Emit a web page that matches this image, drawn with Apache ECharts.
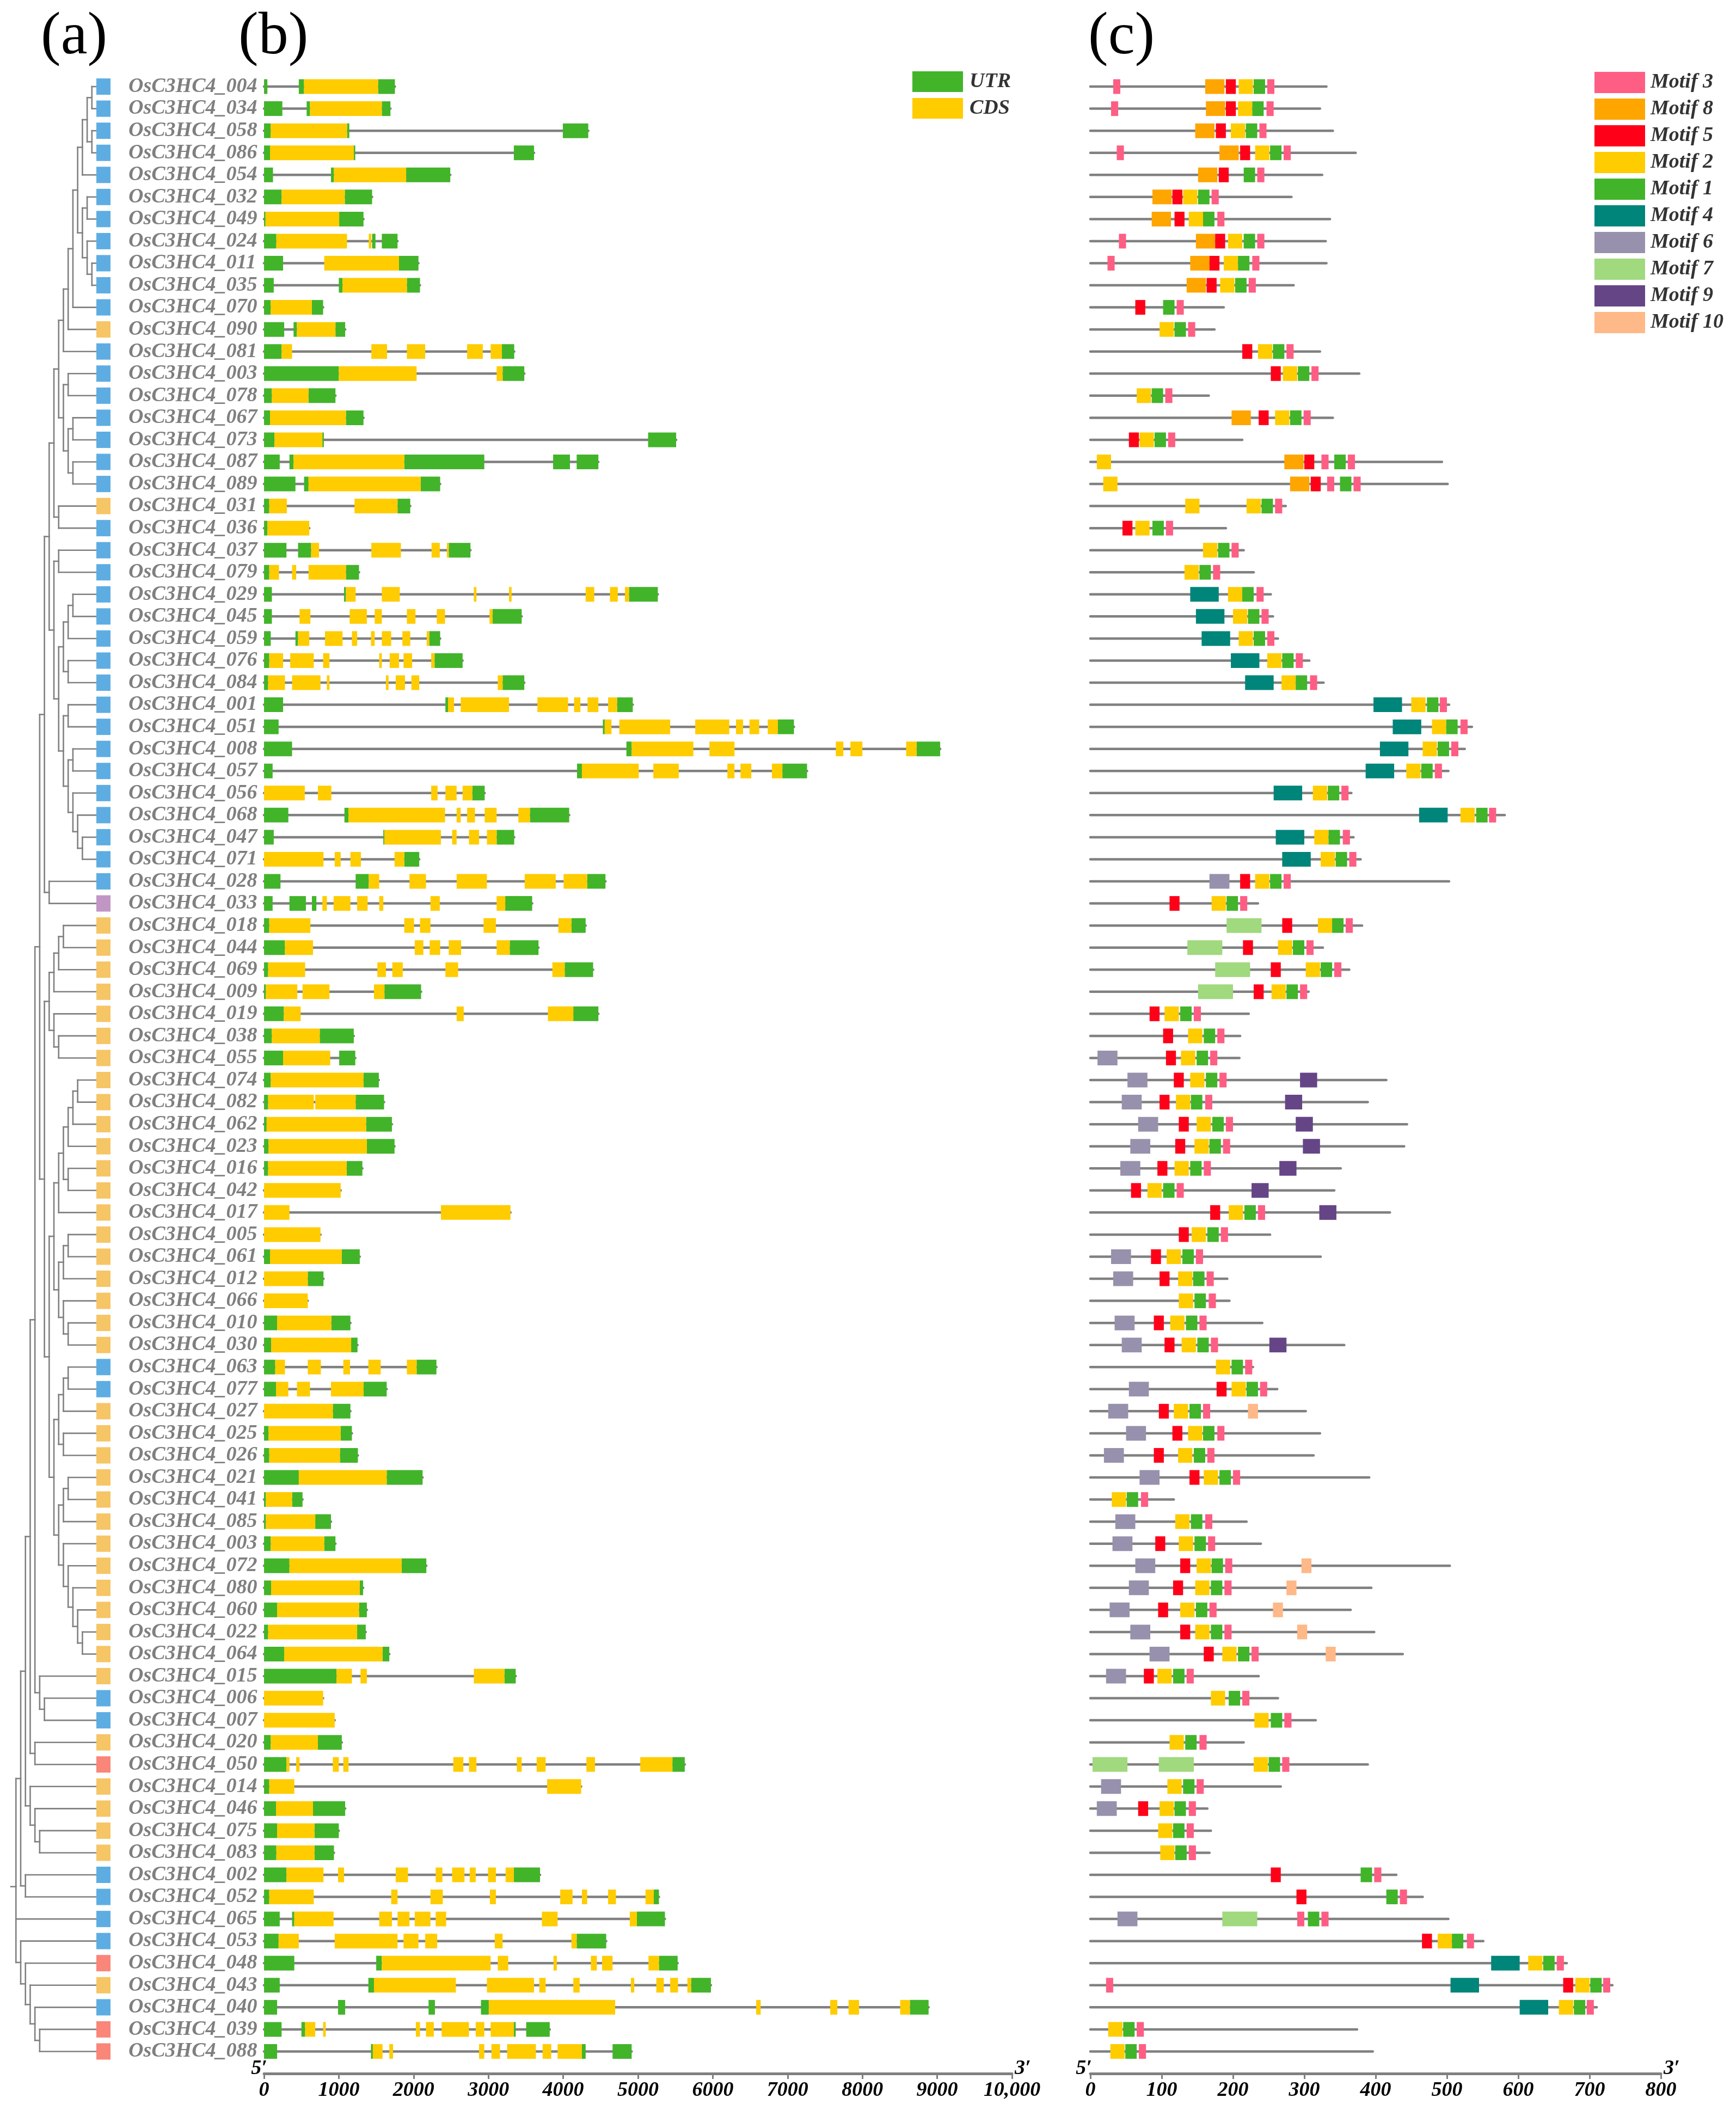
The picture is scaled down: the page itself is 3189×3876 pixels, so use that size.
<!DOCTYPE html>
<html>
<head>
<meta charset="utf-8">
<title>OsC3HC4 phylogeny, gene structure and motifs</title>
<script src="https://cdn.jsdelivr.net/npm/echarts@6/dist/echarts.min.js"></script>
<style>
  html, body { margin: 0; padding: 0; background: #fff; }
  #main { width: 3189px; height: 3876px; }
</style>
</head>
<body>
<div id="main"></div>
<script>
'use strict';

// ---- data (rows from top to bottom) ----
const genes = [
    'OsC3HC4_004', 'OsC3HC4_034', 'OsC3HC4_058', 'OsC3HC4_086', 'OsC3HC4_054', 'OsC3HC4_032', 'OsC3HC4_049', 'OsC3HC4_024', 'OsC3HC4_011', 'OsC3HC4_035',
    'OsC3HC4_070', 'OsC3HC4_090', 'OsC3HC4_081', 'OsC3HC4_003', 'OsC3HC4_078', 'OsC3HC4_067', 'OsC3HC4_073', 'OsC3HC4_087', 'OsC3HC4_089', 'OsC3HC4_031',
    'OsC3HC4_036', 'OsC3HC4_037', 'OsC3HC4_079', 'OsC3HC4_029', 'OsC3HC4_045', 'OsC3HC4_059', 'OsC3HC4_076', 'OsC3HC4_084', 'OsC3HC4_001', 'OsC3HC4_051',
    'OsC3HC4_008', 'OsC3HC4_057', 'OsC3HC4_056', 'OsC3HC4_068', 'OsC3HC4_047', 'OsC3HC4_071', 'OsC3HC4_028', 'OsC3HC4_033', 'OsC3HC4_018', 'OsC3HC4_044',
    'OsC3HC4_069', 'OsC3HC4_009', 'OsC3HC4_019', 'OsC3HC4_038', 'OsC3HC4_055', 'OsC3HC4_074', 'OsC3HC4_082', 'OsC3HC4_062', 'OsC3HC4_023', 'OsC3HC4_016',
    'OsC3HC4_042', 'OsC3HC4_017', 'OsC3HC4_005', 'OsC3HC4_061', 'OsC3HC4_012', 'OsC3HC4_066', 'OsC3HC4_010', 'OsC3HC4_030', 'OsC3HC4_063', 'OsC3HC4_077',
    'OsC3HC4_027', 'OsC3HC4_025', 'OsC3HC4_026', 'OsC3HC4_021', 'OsC3HC4_041', 'OsC3HC4_085', 'OsC3HC4_003', 'OsC3HC4_072', 'OsC3HC4_080', 'OsC3HC4_060',
    'OsC3HC4_022', 'OsC3HC4_064', 'OsC3HC4_015', 'OsC3HC4_006', 'OsC3HC4_007', 'OsC3HC4_020', 'OsC3HC4_050', 'OsC3HC4_014', 'OsC3HC4_046', 'OsC3HC4_075',
    'OsC3HC4_083', 'OsC3HC4_002', 'OsC3HC4_052', 'OsC3HC4_065', 'OsC3HC4_053', 'OsC3HC4_048', 'OsC3HC4_043', 'OsC3HC4_040', 'OsC3HC4_039', 'OsC3HC4_088'
];

// clade of each gene: b blue, o orange, p purple, s salmon
const clades = ('bbbbbbbbbbb' + 'o' + 'bbbbbbb' + 'o' + 'bbbbbbbbbbbbbbbbb' + 'p' +
    'oooooooooooooooooooo' + 'bb' + 'ooooooooooooo' + 'bb' + 'o' + 's' + 'oooo' +
    'bbbb' + 's' + 'o' + 'b' + 'ss').split('');

// topology of the tree, leaves are row numbers (1 = top row)
const tree = [
    [[[[[[[[[[[[[[[[1, 2], [3, 4]], 5], [[6, 7], [8, [9, 10]]]], 11], 12], 13],
        [[14, 15], [[16, 17], [18, 19]]]], [20, 21]],
        [[22, 23], [[[[24, 25], 26], [27, 28]], [[29, 30], [[31, 32], [33, [34, [35, 36]]]]]]]],
        [37, 38]],
        [[[[[39, 40], 41], 42], [43, [44, 45]]],
            [[[[[[[46, 47], 48], 49], [50, 51]], 52], [[[53, 54], 55], [56, [57, 58]]]],
                [[[[59, 60], 61], [62, 63]], [[[64, 65], 66], [67, [68, [69, [70, [71, 72]]]]]]]]]],
        [73, [74, 75]]], [76, 77]], [78, [79, [80, 81]]]], [82, 83]],
    84,
    [85, [86, [87, [88, [89, 90]]]]]
];

// exon parts in bp, pairs of start/end
const utrParts = [
    [0, 45, 465, 535, 1525, 1750], [0, 245, 570, 615, 1575, 1690], [0, 90, 1110, 1140, 3995, 4335], [0, 80, 1200, 1220, 3340, 3610],
    [0, 120, 895, 935, 1900, 2490], [0, 235, 1080, 1445], [0, 20, 1005, 1330], [0, 165, 1445, 1490, 1575, 1785],
    [0, 255, 1805, 2065], [0, 130, 1000, 1050, 1910, 2085], [0, 90, 640, 790], [0, 270, 395, 440, 955, 1085],
    [0, 235, 3180, 3345], [0, 1000, 3190, 3480], [0, 105, 595, 955], [0, 80, 1095, 1330],
    [0, 140, 780, 800, 5135, 5510], [0, 210, 340, 395, 1875, 2945, 3865, 4090, 4180, 4470], [0, 420, 535, 595, 2095, 2355], [0, 70, 1785, 1955],
    [0, 45], [0, 300, 455, 630, 2470, 2760], [0, 70, 1095, 1270], [0, 105, 1070, 1095, 4880, 5265],
    [0, 105, 3055, 3445], [0, 90, 420, 455, 2210, 2355], [0, 70, 2280, 2655], [0, 55, 3190, 3480],
    [0, 255, 2425, 2460, 4720, 4930], [0, 195, 4530, 4555, 6870, 7085], [0, 375, 4845, 4915, 8725, 9040], [0, 115, 4185, 4250, 6930, 7260],
    [2785, 2950], [0, 325, 1075, 1130, 3555, 4080], [0, 130, 1595, 1610, 3110, 3345], [1875, 2075],
    [0, 220, 1225, 1400, 4320, 4565], [0, 115, 340, 560, 640, 700, 3225, 3585], [0, 70, 4110, 4300], [0, 280, 3285, 3670],
    [0, 55, 4020, 4400], [0, 25, 1610, 2100], [0, 265, 4135, 4470], [0, 105, 745, 1200],
    [0, 255, 1005, 1220], [0, 90, 1330, 1535], [0, 55, 1225, 1605], [0, 35, 1365, 1710],
    [0, 60, 1375, 1745], [0, 55, 1105, 1315], [], [],
    [], [0, 80, 1040, 1280], [585, 795], [],
    [0, 175, 900, 1155], [0, 95, 1165, 1250], [0, 150, 2040, 2305], [0, 160, 1330, 1640],
    [920, 1155], [0, 60, 1025, 1175], [0, 70, 1015, 1255], [0, 465, 1640, 2120],
    [0, 25, 375, 515], [0, 25, 685, 895], [0, 90, 805, 955], [0, 340, 1840, 2170],
    [0, 95, 1280, 1325], [0, 175, 1270, 1375], [0, 55, 1245, 1360], [0, 270, 1585, 1675],
    [0, 970, 3215, 3365], [], [], [0, 90, 720, 1040],
    [0, 300, 5460, 5625], [0, 70], [0, 160, 655, 1085], [0, 175, 675, 1000],
    [0, 165, 675, 935], [0, 300, 3340, 3690], [0, 70, 5210, 5280], [0, 210, 375, 405, 4985, 5360],
    [0, 195, 4180, 4575], [0, 405, 1500, 1575, 5280, 5530], [0, 210, 1395, 1470, 5710, 5975],
    [0, 175, 990, 1085, 2200, 2285, 2900, 3005, 8635, 8885],
    [0, 235, 500, 550, 3340, 3365, 3505, 3820], [0, 175, 1430, 1455, 4250, 4300, 4660, 4915]
];

const cdsParts = [
    [535, 1525], [615, 1575], [90, 1110], [80, 1200], [935, 1900], [235, 1080], [20, 1005], [165, 1110, 1400, 1435],
    [805, 1805], [1050, 1910], [90, 640], [440, 955],
    [235, 375, 1435, 1645, 1910, 2155, 2715, 2925, 3030, 3180], [1000, 2040, 3110, 3190], [105, 595], [80, 1095],
    [140, 780], [395, 1875], [595, 2095], [70, 305, 1210, 1785], [45, 605],
    [630, 735, 1435, 1830, 2240, 2350, 2445, 2470], [70, 200, 375, 430, 595, 1095],
    [1095, 1225, 1575, 1815, 2805, 2840, 3275, 3310, 4300, 4415, 4625, 4730, 4825, 4880],
    [475, 620, 1145, 1375, 1480, 1575, 1910, 2025, 2310, 2420, 3015, 3055],
    [455, 605, 815, 1050, 1175, 1245, 1430, 1480, 1575, 1700, 1850, 1955, 2175, 2210],
    [70, 255, 350, 665, 790, 875, 1540, 1575, 1680, 1805, 1865, 1980, 2235, 2280],
    [55, 280, 375, 755, 840, 875, 1630, 1665, 1760, 1885, 1970, 2075, 3125, 3190],
    [2460, 2540, 2630, 3275, 3655, 4065, 4145, 4230, 4325, 4470, 4600, 4720],
    [4555, 4645, 4750, 5430, 5765, 6220, 6310, 6405, 6490, 6620, 6735, 6870],
    [4915, 5740, 5955, 6290, 7645, 7745, 7840, 8000, 8585, 8725],
    [4250, 5010, 5205, 5545, 6195, 6290, 6370, 6515, 6790, 6930],
    [0, 545, 720, 900, 2235, 2320, 2425, 2575, 2655, 2785],
    [1130, 2420, 2575, 2630, 2715, 2820, 2950, 3110, 3400, 3555],
    [1610, 2365, 2515, 2575, 2740, 2875, 2980, 3110],
    [0, 795, 945, 1025, 1155, 1295, 1745, 1875],
    [1400, 1540, 1945, 2165, 2575, 2980, 3485, 3900, 4005, 4320],
    [780, 840, 930, 1155, 1245, 1385, 1540, 1595, 2225, 2350, 3110, 3225],
    [70, 620, 1875, 2005, 2085, 2225, 2935, 3100, 3935, 4110],
    [280, 655, 2015, 2130, 2215, 2355, 2470, 2635, 3110, 3285],
    [55, 550, 1515, 1630, 1715, 1855, 2425, 2595, 3855, 4020],
    [25, 445, 515, 875, 1470, 1610], [265, 490, 2575, 2670, 3795, 4135], [105, 745], [255, 885],
    [90, 1330], [55, 665, 685, 1225], [35, 1365], [60, 1375], [55, 1105], [0, 1025], [0, 340, 2365, 3295],
    [0, 755], [80, 1040], [0, 585], [0, 585], [175, 900], [95, 1165],
    [150, 280, 585, 760, 1060, 1150, 1395, 1560, 1910, 2040], [160, 325, 440, 615, 895, 1330],
    [0, 920], [60, 1025], [70, 1015], [465, 1640], [25, 375], [25, 685], [90, 805], [340, 1840],
    [95, 1280], [175, 1270], [55, 1245], [270, 1585], [970, 1175, 1290, 1375, 2805, 3215],
    [0, 790], [0, 945], [90, 720],
    [300, 340, 430, 475, 920, 1000, 1060, 1130, 2530, 2665, 2740, 2840, 3380, 3445, 3645, 3765, 4310, 4425, 5030, 5460],
    [70, 405, 3785, 4240], [160, 655], [175, 675], [165, 675],
    [300, 795, 990, 1070, 1760, 1925, 2295, 2385, 2515, 2680, 2750, 2830, 2995, 3100, 3230, 3340],
    [70, 665, 1700, 1785, 2225, 2390, 3020, 3100, 3960, 4125, 4250, 4320, 4600, 4705, 5100, 5210],
    [405, 930, 1540, 1710, 1785, 1945, 2015, 2225, 2295, 2435, 3715, 3925, 4890, 4985],
    [195, 465, 945, 1785, 1865, 2065, 2155, 2315, 3085, 3190, 4110, 4180],
    [1575, 3030, 3125, 3265, 3870, 3915, 4370, 4450, 4520, 4660, 5140, 5280],
    [1470, 2565, 2980, 3610, 3680, 3765, 4135, 4220, 4905, 4950, 5245, 5345, 5430, 5535, 5660, 5710],
    [3005, 4695, 6580, 6640, 7570, 7665, 7815, 7955, 8505, 8635],
    [550, 685, 790, 825, 2030, 2085, 2165, 2270, 2375, 2740, 2830, 2945, 3030, 3340],
    [1455, 1585, 1675, 1725, 2875, 2945, 3040, 3155, 3250, 3635, 3725, 3840, 3925, 4250]
];

// protein length in aa
const protLen = [
    331, 322, 340, 372, 325, 282, 336, 330, 331, 285, 187, 174, 322, 377, 166, 340, 213, 493, 501, 274,
    190, 215, 229, 253, 256, 263, 307, 327, 503, 535, 525, 502, 366, 581, 369, 379, 503, 235, 381, 326,
    363, 306, 222, 210, 209, 415, 389, 444, 440, 351, 342, 420, 252, 323, 192, 195, 241, 356, 228, 262,
    302, 322, 313, 391, 117, 219, 239, 504, 394, 365, 398, 438, 236, 263, 316, 215, 389, 267, 164, 169,
    167, 429, 466, 502, 551, 668, 732, 710, 374, 396
];

// motifs per protein: pairs of motif number / start aa
const motifs = [
    [3, 32, 8, 161, 5, 190, 2, 208, 1, 229, 3, 248], [3, 29, 8, 162, 5, 190, 2, 207, 1, 227, 3, 247],
    [8, 147, 5, 176, 2, 197, 1, 218, 3, 237], [3, 37, 8, 181, 5, 210, 2, 231, 1, 252, 3, 271],
    [8, 151, 5, 180, 1, 215, 3, 234], [8, 87, 5, 115, 2, 130, 1, 151, 3, 170],
    [8, 86, 5, 118, 2, 138, 1, 158, 3, 178], [3, 40, 8, 148, 5, 175, 2, 193, 1, 215, 3, 234],
    [3, 24, 8, 140, 5, 167, 2, 187, 1, 207, 3, 227], [8, 135, 5, 163, 2, 182, 1, 203, 3, 222],
    [5, 63, 1, 102, 3, 121], [2, 97, 1, 118, 3, 137], [5, 213, 2, 235, 1, 256, 3, 275],
    [5, 253, 2, 270, 1, 291, 3, 310], [2, 65, 1, 86, 3, 105], [8, 198, 5, 236, 2, 259, 1, 280, 3, 299],
    [5, 54, 2, 69, 1, 90, 3, 109], [2, 9, 8, 272, 5, 300, 3, 324, 1, 342, 3, 361],
    [2, 18, 8, 280, 5, 309, 3, 332, 1, 350, 3, 369], [2, 133, 2, 219, 1, 240, 3, 259],
    [5, 45, 2, 63, 1, 87, 3, 106], [2, 158, 1, 179, 3, 198], [2, 132, 1, 153, 3, 172],
    [4, 140, 2, 193, 1, 213, 3, 233], [4, 148, 2, 200, 1, 221, 3, 240], [4, 156, 2, 208, 1, 229, 3, 248],
    [4, 197, 2, 248, 1, 269, 3, 288], [4, 217, 2, 268, 1, 288, 3, 308], [4, 397, 2, 450, 1, 472, 3, 490],
    [4, 424, 2, 479, 1, 499, 3, 519], [4, 406, 2, 466, 1, 487, 3, 506], [4, 386, 2, 443, 1, 464, 3, 483],
    [4, 257, 2, 312, 1, 333, 3, 352], [4, 461, 2, 519, 1, 541, 3, 559], [4, 260, 2, 314, 1, 334, 3, 354],
    [4, 269, 2, 323, 1, 344, 3, 363], [6, 167, 5, 210, 2, 231, 1, 252, 3, 271], [5, 111, 2, 170, 1, 191, 3, 210],
    [7, 191, 5, 269, 2, 319, 1, 339, 3, 358], [7, 136, 5, 214, 2, 263, 1, 284, 3, 303],
    [7, 175, 5, 253, 2, 302, 1, 323, 3, 342], [7, 151, 5, 229, 2, 254, 1, 275, 3, 294],
    [5, 83, 2, 104, 1, 126, 3, 145], [5, 102, 2, 137, 1, 159, 3, 178], [6, 10, 5, 106, 2, 127, 1, 149, 3, 168],
    [6, 52, 5, 117, 2, 140, 1, 162, 3, 181, 9, 294], [6, 44, 5, 97, 2, 120, 1, 141, 3, 161, 9, 273],
    [6, 67, 5, 124, 2, 149, 1, 171, 3, 190, 9, 288], [6, 56, 5, 119, 2, 146, 1, 167, 3, 186, 9, 298],
    [6, 42, 5, 94, 2, 118, 1, 140, 3, 159, 9, 265], [5, 57, 2, 80, 1, 102, 3, 121, 9, 226],
    [5, 168, 2, 194, 1, 216, 3, 235, 9, 321], [5, 124, 2, 142, 1, 164, 3, 183],
    [6, 29, 5, 85, 2, 107, 1, 129, 3, 148], [6, 32, 5, 97, 2, 123, 1, 144, 3, 163], [2, 124, 1, 146, 3, 166],
    [6, 34, 5, 89, 2, 112, 1, 134, 3, 153], [6, 44, 5, 104, 2, 128, 1, 150, 3, 169, 9, 251],
    [2, 176, 1, 198, 3, 217], [6, 54, 5, 177, 2, 198, 1, 219, 3, 238],
    [6, 25, 5, 96, 2, 117, 1, 139, 3, 158, 10, 221], [6, 50, 5, 115, 2, 137, 1, 158, 3, 178],
    [6, 19, 5, 89, 2, 123, 1, 145, 3, 164], [6, 69, 5, 139, 2, 159, 1, 181, 3, 200], [2, 30, 1, 51, 3, 71],
    [6, 35, 2, 119, 1, 141, 3, 161], [6, 31, 5, 91, 2, 124, 1, 146, 3, 165],
    [6, 63, 5, 126, 2, 149, 1, 170, 3, 189, 10, 296], [6, 54, 5, 116, 2, 147, 1, 169, 3, 188, 10, 275],
    [6, 27, 5, 95, 2, 126, 1, 148, 3, 167, 10, 256], [6, 56, 5, 126, 2, 147, 1, 169, 3, 188, 10, 290],
    [6, 83, 5, 159, 2, 185, 1, 207, 3, 226, 10, 330], [6, 22, 5, 75, 2, 94, 1, 116, 3, 135],
    [2, 169, 1, 194, 3, 213], [2, 230, 1, 253, 3, 272], [2, 111, 1, 133, 3, 153],
    [7, 3, 7, 96, 2, 229, 1, 250, 3, 269], [6, 15, 2, 108, 1, 130, 3, 149], [6, 9, 5, 67, 2, 97, 1, 118, 3, 138],
    [2, 95, 1, 116, 3, 135], [2, 98, 1, 119, 3, 138], [5, 253, 1, 379, 3, 398], [5, 289, 1, 415, 3, 434],
    [6, 38, 7, 185, 3, 290, 1, 305, 3, 324], [5, 465, 2, 487, 1, 507, 3, 528], [4, 562, 2, 614, 1, 635, 3, 654],
    [3, 22, 4, 505, 5, 663, 2, 680, 1, 701, 3, 719], [4, 602, 2, 657, 1, 678, 3, 696],
    [2, 25, 1, 46, 3, 65], [2, 28, 1, 49, 3, 68]
];

// motif widths (aa) and colours, legend order
const motifOrder = [3, 8, 5, 2, 1, 4, 6, 7, 9, 10];
const motifLen = { 1: 16, 2: 20, 3: 10, 4: 40, 5: 14, 6: 28, 7: 49, 8: 27, 9: 24, 10: 14 };
const motifColor = {
    1: '#41b42a', 2: '#ffcc00', 3: '#ff5e84', 4: '#00857a', 5: '#ff0019',
    6: '#9891ad', 7: '#a0d97e', 8: '#ffa500', 9: '#664587', 10: '#ffb888'
};
const cladeColor = { b: '#5eade2', o: '#f6c565', p: '#c196c5', s: '#fa8579' };
const UTR_COLOR = '#42b42a';
const CDS_COLOR = '#ffcc00';
const GREY = '#808080';

const bpTicks = [0, 1000, 2000, 3000, 4000, 5000, 6000, 7000, 8000, 9000, 10000];
const aaTicks = [0, 100, 200, 300, 400, 500, 600, 700, 800];

// ---- layout ----
const TOP = 118.5;
const HEIGHT = 3690.5;
const BOX_H = 27;
const ROOT_X = 29.3;
const STEP = 8.72;
const LEAF_X = 178;
const STUB_X = 20;
const FONT = '"Times New Roman", "Liberation Serif", Times, serif';

// ---- build series data ----
const treeSegs = [];
function place(node, depth) {
    if (typeof node === 'number') return { x: LEAF_X, y: node - 1 };
    const x = ROOT_X + depth * STEP;
    const kids = node.map(c => place(c, depth + 1));
    const ys = kids.map(k => k.y);
    treeSegs.push([x, Math.min(...ys), x, Math.max(...ys)]);
    kids.forEach(k => treeSegs.push([x, k.y, k.x, k.y]));
    return { x: x, y: ys.reduce((a, b) => a + b, 0) / ys.length };
}
const rootNode = place(tree, 0);
treeSegs.push([STUB_X, rootNode.y, rootNode.x, rootNode.y]);

function pairsToRows(list) {
    const rows = [];
    list.forEach((parts, i) => {
        for (let k = 0; k < parts.length; k += 2) rows.push([i, parts[k], parts[k + 1]]);
    });
    return rows;
}
const utrRows = pairsToRows(utrParts);
const cdsRows = pairsToRows(cdsParts);
const geneRows = genes.map((g, i) => [i, Math.max(...utrParts[i].concat(cdsParts[i]))]);
const protRows = protLen.map((len, i) => [i, len]);

function motifRows(id) {
    const rows = [];
    motifs.forEach((list, i) => {
        for (let k = 0; k < list.length; k += 2) {
            if (list[k] === id) rows.push([i, list[k + 1], list[k + 1] + motifLen[id]]);
        }
    });
    return rows;
}

// ---- render helpers ----
function renderSeg(params, api) {
    const a = api.coord([api.value(0), api.value(1)]);
    const b = api.coord([api.value(2), api.value(3)]);
    return {
        type: 'line',
        shape: { x1: a[0], y1: a[1], x2: b[0], y2: b[1] },
        style: { stroke: GREY, lineWidth: 2.6, lineCap: 'square' }
    };
}

function renderBackbone(params, api) {
    const a = api.coord([0, api.value(0)]);
    const b = api.coord([api.value(1), api.value(0)]);
    return {
        type: 'line',
        shape: { x1: a[0], y1: a[1], x2: b[0], y2: b[1] },
        style: { stroke: GREY, lineWidth: 4.5, lineCap: 'round' }
    };
}

function boxRenderer(color) {
    return function (params, api) {
        const a = api.coord([api.value(1), api.value(0)]);
        const b = api.coord([api.value(2), api.value(0)]);
        return {
            type: 'rect',
            shape: { x: a[0], y: a[1] - BOX_H / 2, width: Math.max(b[0] - a[0], 1.5), height: BOX_H },
            style: { fill: color }
        };
    };
}

function renderClade(params, api) {
    const p = api.coord([177, api.value(0)]);
    return {
        type: 'rect',
        shape: { x: p[0], y: p[1] - 15, width: 26, height: 30 },
        style: { fill: cladeColor[clades[params.dataIndex]] }
    };
}

function renderName(params, api) {
    const p = api.coord([236, api.value(0)]);
    return {
        type: 'text',
        x: p[0],
        y: p[1],
        style: {
            text: genes[params.dataIndex],
            fill: '#7f7f7f',
            fontFamily: FONT,
            fontSize: 38,
            fontStyle: 'italic',
            fontWeight: 'bold',
            align: 'left',
            verticalAlign: 'middle'
        }
    };
}

function xAxisFor(grid, max, ticks) {
    return {
        type: 'value',
        gridIndex: grid,
        min: 0,
        max: max,
        interval: ticks[1] - ticks[0],
        position: 'bottom',
        axisLine: { show: true, onZero: false, lineStyle: { color: GREY, width: 5 } },
        axisTick: { show: true, length: 10, lineStyle: { color: GREY, width: 3 } },
        axisLabel: {
            margin: 12,
            color: '#000',
            fontFamily: FONT,
            fontSize: 38,
            fontStyle: 'italic',
            fontWeight: 'bold',
            showMinLabel: true,
            showMaxLabel: true,
            formatter: v => (v >= 10000 ? '10,000' : String(v))
        },
        splitLine: { show: false }
    };
}

function yAxisFor(grid) {
    return { type: 'value', gridIndex: grid, min: -1, max: 90, inverse: true, show: false };
}

const legendText = {
    color: '#333',
    fontFamily: FONT,
    fontSize: 38,
    fontStyle: 'italic',
    fontWeight: 'bold'
};

function headText(x, text) {
    return {
        type: 'text', left: x, top: 14,
        style: { text: text, fill: '#000', fontFamily: FONT, fontSize: 110 }
    };
}

function primeText(x, align, text) {
    return {
        type: 'text', x: x, y: 3800,
        style: {
            text: text, fill: '#000', fontFamily: FONT, fontSize: 38,
            fontStyle: 'italic', fontWeight: 'bold',
            align: align, verticalAlign: 'middle'
        }
    };
}

// ---- chart ----
const chart = echarts.init(document.getElementById('main'), null, { renderer: 'canvas' });

const series = [
    { type: 'custom', name: 'tree', xAxisIndex: 0, yAxisIndex: 0, data: treeSegs, renderItem: renderSeg, silent: true, clip: false },
    { type: 'custom', name: 'clade', xAxisIndex: 0, yAxisIndex: 0, data: genes.map((g, i) => [i]), renderItem: renderClade, silent: true, clip: false },
    { type: 'custom', name: 'names', xAxisIndex: 0, yAxisIndex: 0, data: genes.map((g, i) => [i]), renderItem: renderName, silent: true, clip: false },
    { type: 'custom', name: 'gene', xAxisIndex: 1, yAxisIndex: 1, data: geneRows, renderItem: renderBackbone, silent: true, z: 1 },
    { type: 'custom', name: 'UTR', xAxisIndex: 1, yAxisIndex: 1, data: utrRows, renderItem: boxRenderer(UTR_COLOR), itemStyle: { color: UTR_COLOR }, silent: true, z: 2 },
    { type: 'custom', name: 'CDS', xAxisIndex: 1, yAxisIndex: 1, data: cdsRows, renderItem: boxRenderer(CDS_COLOR), itemStyle: { color: CDS_COLOR }, silent: true, z: 3 },
    { type: 'custom', name: 'protein', xAxisIndex: 2, yAxisIndex: 2, data: protRows, renderItem: renderBackbone, silent: true, z: 1 }
];
motifOrder.forEach(id => {
    series.push({
        type: 'custom',
        name: 'Motif ' + id,
        xAxisIndex: 2,
        yAxisIndex: 2,
        data: motifRows(id),
        renderItem: boxRenderer(motifColor[id]),
        itemStyle: { color: motifColor[id] },
        silent: true,
        z: 2
    });
});

chart.setOption({
    animation: false,
    backgroundColor: '#fff',
    grid: [
        { left: 0, top: TOP, width: 480, height: HEIGHT },
        { left: 485, top: TOP, width: 1374, height: HEIGHT },
        { left: 2003, top: TOP, width: 1048, height: HEIGHT }
    ],
    xAxis: [
        { type: 'value', gridIndex: 0, min: 0, max: 480, show: false },
        xAxisFor(1, 10000, bpTicks),
        xAxisFor(2, 800, aaTicks)
    ],
    yAxis: [yAxisFor(0), yAxisFor(1), yAxisFor(2)],
    legend: [
        {
            data: ['UTR', 'CDS'], left: 1676, top: 131, orient: 'vertical', padding: 0,
            itemWidth: 93, itemHeight: 38, itemGap: 11, icon: 'rect', selectedMode: false,
            textStyle: Object.assign({ padding: [0, 0, 0, 7] }, legendText)
        },
        {
            data: motifOrder.map(id => 'Motif ' + id), left: 2929, top: 132, orient: 'vertical', padding: 0,
            itemWidth: 93, itemHeight: 39, itemGap: 10, icon: 'rect', selectedMode: false,
            textStyle: Object.assign({ padding: [0, 0, 0, 5] }, legendText)
        }
    ],
    graphic: [
        headText(75, '(a)'),
        headText(438, '(b)'),
        headText(1999, '(c)'),
        primeText(491, 'right', '5′'),
        primeText(1864, 'left', '3′'),
        primeText(2006, 'right', '5′'),
        primeText(3056, 'left', '3′')
    ],
    series: series
});
</script>
</body>
</html>
